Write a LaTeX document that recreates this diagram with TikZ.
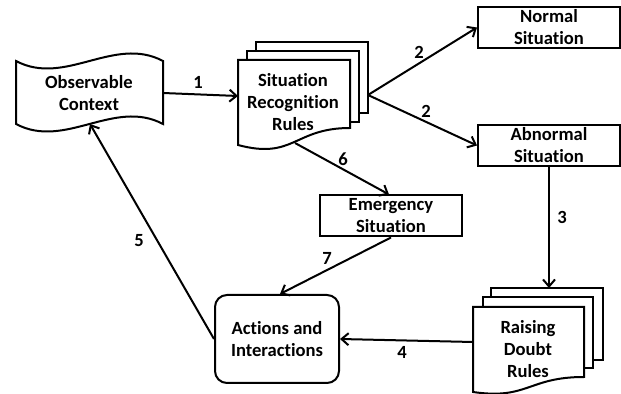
\documentclass[tikz,border=0pt]{standalone}
\usepackage{fontspec}
\setmainfont{Carlito}[Ligatures={NoCommon,NoContextual}]
\usetikzlibrary{arrows.meta}
\begin{document}
\begin{tikzpicture}[x=0.5pt,y=-0.5pt,
  every node/.style={font=\bfseries\fontsize{9.3}{11}\selectfont, align=center},
  shp/.style={draw=black, line width=1pt, fill=white},
  box/.style={draw=black, line width=1pt, fill=white, minimum width=71pt, minimum height=20.5pt, inner sep=0pt},
  arr/.style={line width=1pt, -{Straight Barb[length=3.5pt,width=6pt]}},
  lbl/.style={inner sep=0pt}]
\useasboundingbox[fill=white] (0,0) rectangle (621,394);

% Observable Context (punched tape)
\draw[shp] (16,61) .. controls (65,87) and (114,35) .. (163,61) -- (163,124)
  .. controls (114,98) and (65,150) .. (16,124) -- cycle;
\node (oc) at (89,93) {Observable\\Context};
\coordinate (oc-r) at (163,93);
\coordinate (oc-b) at (90,124);

% Situation Recognition Rules (multi-document)
\draw[shp] (256,42) rectangle (368,113);
\draw[shp] (247,51) rectangle (359,122);
\draw[shp] (238,60) -- (350,60) -- (350,128) .. controls (294,128) and (294,160) .. (238,145) -- cycle;
\node (srr) at (293,102) {Situation\\Recognition\\Rules};
\coordinate (srr-w) at (238,96);
\coordinate (srr-e) at (368,95);
\coordinate (srr-s) at (295,143);

% Rectangles
\node[box] (ns) at (549,27.5) {Normal\\Situation};
\node[box] (as) at (549,145.5) {Abnormal\\Situation};
\node[box] (es) at (391,216) {Emergency\\Situation};
\node[box, minimum width=62pt, minimum height=44pt, rounded corners=6pt] (ai) at (277,339) {Actions and\\Interactions};

% Raising Doubt Rules (multi-document)
\draw[shp] (491,288) rectangle (603,360);
\draw[shp] (483,297) rectangle (593,368);
\draw[shp] (473,307) -- (584,307) -- (584,377) .. controls (528,377) and (528,400) .. (473,392) -- cycle;
\node (rd) at (528,349) {Raising\\Doubt\\Rules};
\coordinate (rd-n) at (549,288);
\coordinate (rd-w) at (473,342);

% Connectors
\draw[arr] (oc-r) -- (srr-w);
\draw[arr] (srr-e) -- (ns.west);
\draw[arr] (srr-e) -- (as.west);
\draw[arr] (as.south) -- (rd-n);
\draw[arr] (rd-w) -- (ai.east);
\draw[arr] (ai.west) -- (oc-b);
\draw[arr] (srr-s) -- ([xshift=-1pt]es.north);
\draw[arr] (es.south) -- ([xshift=1.5pt]ai.north);

% Labels
\node[lbl] (l1) at (198,82) {1};
\node[lbl] (l2a) at (419,52) {2};
\node[lbl] (l2b) at (426,111) {2};
\node[lbl] (l3) at (562,217) {3};
\node[lbl] (l4) at (402,352) {4};
\node[lbl] (l5) at (139,241) {5};
\node[lbl] (l6) at (343,159) {6};
\node[lbl] (l7) at (327,258) {7};
\end{tikzpicture}
\end{document}
